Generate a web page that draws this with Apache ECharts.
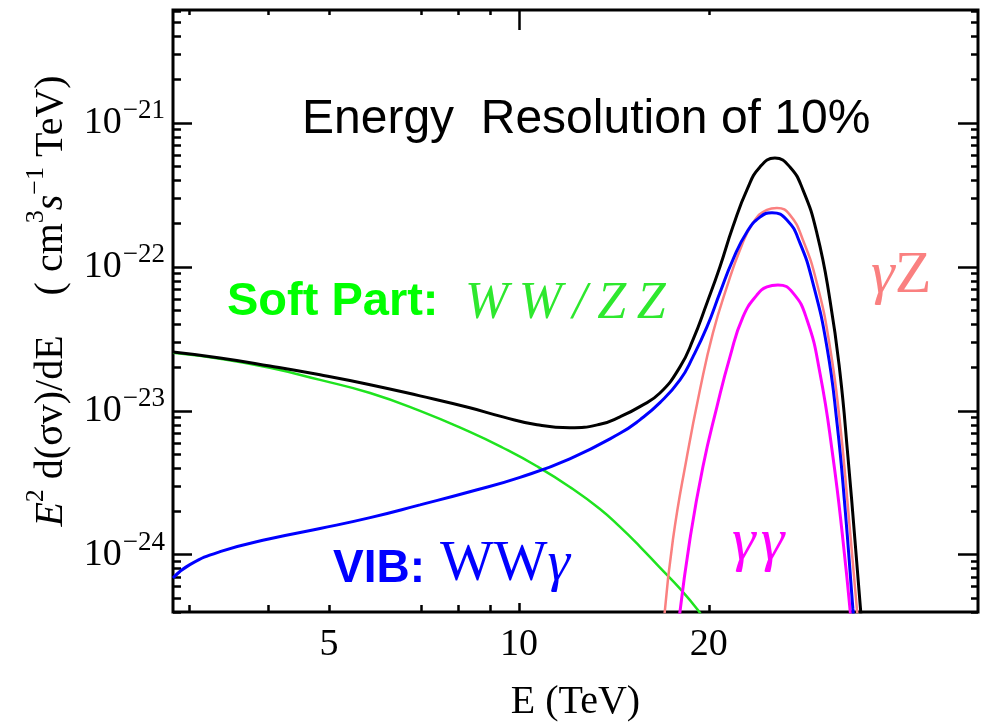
<!DOCTYPE html>
<html>
<head>
<meta charset="utf-8">
<script src="https://cdn.jsdelivr.net/npm/echarts@6/dist/echarts.min.js"></script>
<style>
  html, body { margin: 0; padding: 0; background: #fff; }
  #main { width: 987px; height: 724px; }
</style>
</head>
<body>
<div id="main"></div>
<script>
  // axis ranges (E in TeV, y in cm^3 s^-1 TeV)
  const xMin = 2.83, xMax = 53.4;
  const yMin = 4e-25, yMax = 6.1e-21;

  // ticks and labels
  const xLabelValues = [5, 10, 20];
  const xMinorTicks = [3, 4, 5, 7, 8, 9, 20];
  const xMajorTicks = [10];
  const yLabelValues = [1e-24, 1e-23, 1e-22, 1e-21];
  const yMinorTicks = [];
  for (let p = -25; p <= -21; p++) {
    for (let k = 2; k <= 9; k++) {
      const v = k * Math.pow(10, p);
      if (v >= yMin && v <= yMax) yMinorTicks.push(v);
    }
  }

  // Soft part: WW/ZZ (green)
  const softE   = [2.83, 3.36, 4.03, 4.84, 5.81, 6.97, 8.36, 9.43, 10.68, 12.04, 13.44, 14.46, 15.55, 16.73, 18.00, 19.2, 19.6];
  const softVal = [2.53e-23, 2.30e-23, 1.99e-23, 1.64e-23, 1.33e-23, 1.00e-23, 7.14e-24, 5.54e-24, 4.12e-24, 2.96e-24, 2.08e-24, 1.56e-24, 1.14e-24, 8.13e-25, 5.81e-25, 4.15e-25, 3.6e-25];

  // VIB: WW gamma (blue)
  const vibE   = [2.83, 3.01, 3.36, 4.03, 4.84, 5.81, 6.97, 8.36, 10.04, 12.04, 14.46, 15.55, 16.73, 18.00, 18.87, 19.86, 20.82, 21.83, 22.98, 24.10, 25.18, 26.59, 27.88, 29.23, 30.77, 31.92, 32.86, 33.83, 33.95];
  const vibVal = [6.9e-25, 8.53e-25, 1.05e-24, 1.29e-24, 1.52e-24, 1.81e-24, 2.22e-24, 2.74e-24, 3.45e-24, 4.64e-24, 6.98e-24, 8.66e-24, 1.14e-23, 1.64e-23, 2.37e-23, 3.83e-23, 6.60e-23, 1.12e-22, 1.75e-22, 2.22e-22, 2.38e-22, 2.12e-22, 1.47e-22, 7.74e-23, 2.78e-23, 8.25e-24, 2.15e-24, 4.2e-25, 3.5e-25];

  // gamma Z line (pink)
  const gzE   = [16.98, 17.54, 18.46, 19.36, 20.30, 21.36, 22.40, 23.49, 24.72, 25.64, 26.88, 28.19, 29.66, 31.11, 32.27, 33.22, 34.45];
  const gzVal = [3.5e-25, 1.27e-24, 4.80e-24, 1.40e-23, 3.48e-23, 7.26e-23, 1.31e-22, 2.02e-22, 2.49e-22, 2.57e-22, 2.30e-22, 1.54e-22, 7.74e-23, 2.78e-23, 8.25e-24, 2.15e-24, 3.5e-25];

  // gamma gamma line (magenta)
  const ggE   = [17.93, 18.66, 19.57, 20.60, 21.60, 22.65, 23.84, 24.72, 25.73, 27.18, 28.61, 29.99, 31.45, 32.62, 33.60];
  const ggVal = [3.5e-25, 1.27e-24, 4.09e-24, 1.07e-23, 2.37e-23, 4.50e-23, 6.39e-23, 7.26e-23, 7.50e-23, 6.60e-23, 4.29e-23, 1.84e-23, 4.80e-24, 1.27e-24, 3.5e-25];

  // total (black)
  const totalE   = [2.83, 3.36, 4.03, 4.84, 5.81, 6.97, 8.36, 9.43, 10.68, 12.04, 13.44, 14.46, 15.55, 16.73, 18.00, 18.87, 19.86, 20.82, 21.83, 22.98, 24.10, 25.45, 26.88, 28.19, 29.66, 31.11, 32.27, 33.22, 34.08, 34.83];
  const totalVal = [2.56e-23, 2.33e-23, 2.05e-23, 1.78e-23, 1.52e-23, 1.27e-23, 1.05e-23, 9.08e-24, 8.00e-24, 7.62e-24, 8.06e-24, 9.08e-24, 1.07e-23, 1.33e-23, 2.02e-23, 3.11e-23, 5.62e-23, 1.00e-22, 1.90e-22, 3.43e-22, 4.95e-22, 5.71e-22, 4.95e-22, 3.43e-22, 1.72e-22, 5.90e-23, 1.84e-23, 4.80e-24, 1.27e-24, 3.9e-25];

  const zip = (xs, ys) => xs.map((x, i) => [x, ys[i]]);
  const serif = 'Liberation Serif';
  const sans = 'Liberation Sans';

  function xAxisOf(position, ticks, len, withLabels) {
    return {
      type: 'log', logBase: 10, min: xMin, max: xMax, position: position,
      axisLine: { show: false, onZero: false },
      splitLine: { show: false },
      axisTick: { show: true, inside: true, length: len, customValues: ticks,
        lineStyle: { color: '#000', width: 2.5 } },
      axisLabel: withLabels ? {
        customValues: xLabelValues, margin: 14, color: '#000',
        fontFamily: serif, fontSize: 38,
        formatter: v => String(Math.round(v))
      } : { show: false }
    };
  }

  function yAxisOf(position, ticks, len, withLabels) {
    return {
      type: 'log', logBase: 10, min: yMin, max: yMax, position: position,
      axisLine: { show: false, onZero: false },
      splitLine: { show: false },
      axisTick: { show: true, inside: true, length: len, customValues: ticks,
        lineStyle: { color: '#000', width: 2.5 } },
      axisLabel: withLabels ? {
        customValues: yLabelValues, margin: 8, color: '#000',
        formatter: v => '{b|10}{s|\u2212' + Math.abs(Math.round(Math.log10(v))) + '}',
        rich: {
          b: { fontFamily: serif, fontSize: 38, color: '#000' },
          s: { fontFamily: serif, fontSize: 27, color: '#000', padding: [0, 0, 24, 1] }
        }
      } : { show: false }
    };
  }

  const xAxes = [
    xAxisOf('bottom', xMinorTicks, 7, true),
    xAxisOf('bottom', xMajorTicks, 9, false),
    xAxisOf('top', xMinorTicks, 5, false),
    xAxisOf('top', xMajorTicks, 20, false)
  ];
  Object.assign(xAxes[0], {
    name: 'E (TeV)', nameLocation: 'middle', nameGap: 70,
    nameTextStyle: { fontFamily: serif, fontSize: 40, color: '#000' }
  });

  const yAxes = [
    yAxisOf('left', yLabelValues, 19, true),
    yAxisOf('left', yMinorTicks, 8, false),
    yAxisOf('right', yLabelValues, 20, false),
    yAxisOf('right', yMinorTicks, 7, false)
  ];
  Object.assign(yAxes[0], {
    name: '{n|  }{i|E}{u|2}{n| d(\u03c3v)/dE    ( cm}{u|3}{i|s}{u|\u22121}{n| TeV)}',
    nameLocation: 'middle', nameRotate: 90, nameGap: 94,
    nameTextStyle: {
      color: '#000',
      rich: {
        i: { fontFamily: serif, fontSize: 40, fontStyle: 'italic', color: '#000' },
        n: { fontFamily: serif, fontSize: 40, color: '#000' },
        u: { fontFamily: serif, fontSize: 26, color: '#000', padding: [0, 0, 30, 0] }
      }
    }
  });

  function lineSeries(name, data, color, width) {
    return {
      name: name, type: 'line', data: data,
      showSymbol: false, symbol: 'none',
      smooth: 0.5,
      lineStyle: { color: color, width: width },
      clip: true
    };
  }

  const chart = echarts.init(document.getElementById('main'));
  chart.setOption({
    animation: false,
    backgroundColor: '#fff',
    grid: {
      left: 173, right: 9, top: 10, bottom: 112,
      show: true, borderColor: '#000', borderWidth: 3,
      outerBoundsMode: 'none'
    },
    xAxis: xAxes,
    yAxis: yAxes,
    series: [
      lineSeries('Soft Part: WW/ZZ', zip(softE, softVal), '#1fe31f', 2.5),
      lineSeries('\u03b3Z', zip(gzE, gzVal), '#fa8080', 2.5),
      lineSeries('\u03b3\u03b3', zip(ggE, ggVal), '#ff00ff', 3),
      lineSeries('VIB: WW\u03b3', zip(vibE, vibVal), '#0000ff', 3),
      lineSeries('Total', zip(totalE, totalVal), '#000000', 3)
    ],
    graphic: [
      { type: 'text', left: 302, top: 96, style: { text: 'Energy  Resolution of 10%',
        fontFamily: sans, fontSize: 48, fill: '#000' } },
      { type: 'text', left: 227, top: 279, style: { text: 'Soft Part:',
        fontFamily: sans, fontSize: 47, fontWeight: 'bold', fill: '#00ff00' } },
      { type: 'text', left: 465, top: 278, style: { text: 'W\u2009W\u2009/\u2009Z\u2009Z',
        fontFamily: serif, fontSize: 52, fontStyle: 'italic', fill: '#2ee82e' } },
      { type: 'text', left: 333, top: 546, style: { text: 'VIB:',
        fontFamily: sans, fontSize: 46, fontWeight: 'bold', fill: '#0000ff' } },
      { type: 'text', left: 440, top: 537, style: { text: 'WW{g|\u03b3}',
        fontFamily: serif, fontSize: 57, fill: '#0000ff',
        rich: { g: { fontFamily: serif, fontSize: 57, fontStyle: 'italic', fill: '#0000ff' } } } },
      { type: 'text', left: 871, top: 246, style: { text: '{g|\u03b3}Z',
        fontFamily: serif, fontSize: 60, fill: '#fa8080',
        rich: { g: { fontFamily: serif, fontSize: 60, fontStyle: 'italic', fill: '#fa8080' } } } },
      { type: 'text', left: 732, top: 513, style: { text: '\u03b3\u200a\u03b3',
        fontFamily: serif, fontSize: 60, fontStyle: 'italic', fill: '#ff00ff' } }
    ]
  });
</script>
</body>
</html>
